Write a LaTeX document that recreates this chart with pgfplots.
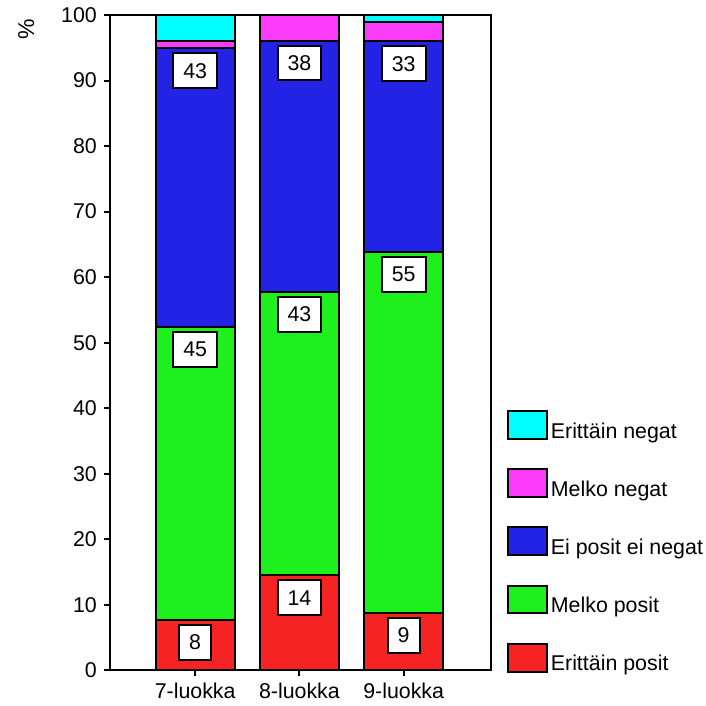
\documentclass[border=0pt]{standalone}
\usepackage{pgfplots}
\pgfplotsset{compat=1.18}
\usepackage{fontspec}
\setmainfont{Liberation Sans}
\definecolor{cNegE}{RGB}{0,255,255}
\definecolor{cNegM}{RGB}{250,60,250}
\definecolor{cNeu}{RGB}{35,35,230}
\definecolor{cPosM}{RGB}{30,240,30}
\definecolor{cPosE}{RGB}{245,35,35}
\begin{document}
\begin{tikzpicture}
\begin{axis}[
  scale only axis, width=190.5pt, height=328pt,
  xmin=-0.818, xmax=2.833, ymin=0, ymax=100,
  ybar stacked, bar width=39.5pt,
  xtick={0,1,2}, xticklabels={7-luokka,8-luokka,9-luokka},
  ytick={0,10,...,100},
  xtick pos=bottom, ytick pos=left,
  tick align=outside, major tick length=3pt,
  tick style={black, line width=1pt},
  axis line style={line width=1pt},
  ticklabel style={font=\fontsize{10.7}{12}\selectfont},
  /pgf/number format/assume math mode=true,
  legend style={draw=none, fill=none, inner sep=0pt, at={(rel axis cs:1,0)}, anchor=south west, xshift=8pt, yshift=-3.5pt,
    font=\fontsize{10.7}{12}\selectfont, row sep=12pt, nodes={inner sep=1.5pt}},
  legend cell align=left,
  reverse legend,
  legend image code/.code={\draw[#1, line width=1pt] (0pt,-3.5pt) rectangle (19.5pt,10.5pt);},
  visualization depends on=rawy \as \rawy,
  every node near coord/.append style={anchor=north, yshift={\rawy*1.64pt-2pt}, fill=white, draw=black, line width=1pt,
    font=\fontsize{10.7}{12}\selectfont, inner xsep=5pt, inner ysep=0pt, minimum height=17.5pt, text=black},
  clip=false,
]
\addplot[fill=cPosE, draw=black, line width=1pt, nodes near coords, point meta=explicit symbolic]
  coordinates {(0,7.7) [8] (1,14.5) [14] (2,8.8) [9]};
\addplot[fill=cPosM, draw=black, line width=1pt, nodes near coords, point meta=explicit symbolic]
  coordinates {(0,44.7) [45] (1,43.3) [43] (2,55.0) [55]};
\addplot[fill=cNeu, draw=black, line width=1pt, nodes near coords, point meta=explicit symbolic]
  coordinates {(0,42.5) [43] (1,38.3) [38] (2,32.2) [33]};
\addplot[fill=cNegM, draw=black, line width=1pt]
  coordinates {(0,1.1) (1,3.9) (2,2.9)};
\addplot[fill=cNegE, draw=black, line width=1pt]
  coordinates {(0,4.0) (1,0) (2,1.1)};
\legend{Erittäin posit, Melko posit, Ei posit ei negat, Melko negat, Erittäin negat}
\node[rotate=90, font=\fontsize{11.5}{12}\selectfont] at (rel axis cs:-0.22,0.978) {\%};
\coordinate (SW) at (rel axis cs:0,0);
\coordinate (NE) at (rel axis cs:1,1);
\end{axis}
\path ([shift={(-55pt,-17.5pt)}]SW) rectangle ([shift={(106.5pt,7.5pt)}]NE);
\end{tikzpicture}
\end{document}
